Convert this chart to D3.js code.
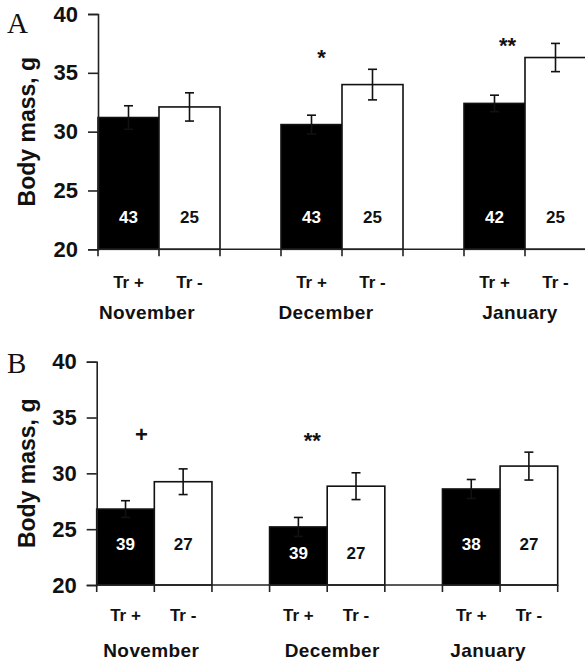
<!DOCTYPE html>
<html><head><meta charset="utf-8">
<script src="https://cdn.jsdelivr.net/npm/d3@7/dist/d3.min.js"></script>
<style>body{margin:0;background:#fff}svg{display:block}</style>
</head><body>
<svg id="c" width="585" height="661"></svg>
<script>
const months = ["November", "December", "January"];
const groups = ["Tr +", "Tr -"];
const yTicks = [20, 25, 30, 35, 40];
// Panel A
const meanA_trPlus = [31.2, 30.6, 32.4];
const meanA_trMinus = [32.1, 34.0, 36.3];
const seA_trPlus = [1.0, 0.8, 0.7];
const seA_trMinus = [1.2, 1.3, 1.2];
const nA_trPlus = [43, 43, 42];
const nA_trMinus = [25, 25, 25];
const sigA = ["", "*", "**"];
// Panel B
const meanB_trPlus = [26.8, 25.2, 28.6];
const meanB_trMinus = [29.25, 28.85, 30.65];
const seB_trPlus = [0.75, 0.85, 0.85];
const seB_trMinus = [1.15, 1.2, 1.25];
const nB_trPlus = [39, 39, 38];
const nB_trMinus = [27, 27, 27];
const sigB = ["+", "**", ""];

const FONT = "'Liberation Sans', Arial, sans-serif";
const svg = d3.select("#c");

function panel(cfg) {
  const g = svg.append("g");
  const x0 = d3.scaleBand().domain(months).range([cfg.left, cfg.right]).paddingInner(1/3).paddingOuter(0);
  const x1 = d3.scaleBand().domain(groups).range([0, x0.bandwidth()]);
  const y = d3.scaleLinear().domain([20, 40]).range([cfg.bottom, cfg.top]);
  const data = [];
  months.forEach((m, i) => {
    data.push({m, grp: groups[0], v: cfg.plus[i], se: cfg.seP[i], n: cfg.nP[i], i});
    data.push({m, grp: groups[1], v: cfg.minus[i], se: cfg.seM[i], n: cfg.nM[i], i});
  });
  const bx = d => x0(d.m) + x1(d.grp);
  // bars
  g.selectAll("rect.bar").data(data).join("rect")
    .attr("x", bx).attr("y", d => y(d.v))
    .attr("width", x1.bandwidth()).attr("height", d => y(20) - y(d.v))
    .attr("fill", d => d.grp === groups[0] ? "#000" : "#fff")
    .attr("stroke", "#111").attr("stroke-width", 1.6);
  // error bars
  const eb = g.selectAll("g.eb").data(data).join("g");
  eb.append("line").attr("x1", d => bx(d) + x1.bandwidth()/2).attr("x2", d => bx(d) + x1.bandwidth()/2)
    .attr("y1", d => y(d.v + d.se)).attr("y2", d => y(d.v - d.se)).attr("stroke", "#111").attr("stroke-width", 1.6);
  eb.append("line").attr("x1", d => bx(d) + x1.bandwidth()/2 - 4.5).attr("x2", d => bx(d) + x1.bandwidth()/2 + 4.5)
    .attr("y1", d => y(d.v + d.se)).attr("y2", d => y(d.v + d.se)).attr("stroke", "#111").attr("stroke-width", 1.6);
  eb.append("line").attr("x1", d => bx(d) + x1.bandwidth()/2 - 4.5).attr("x2", d => bx(d) + x1.bandwidth()/2 + 4.5)
    .attr("y1", d => y(d.v - d.se)).attr("y2", d => y(d.v - d.se)).attr("stroke", "#111").attr("stroke-width", 1.6);
  // counts
  g.selectAll("text.n").data(data).join("text")
    .attr("x", d => bx(d) + x1.bandwidth()/2)
    .attr("y", d => y(20) - cfg.nOff[d.i])
    .attr("text-anchor", "middle").attr("dominant-baseline", "central")
    .attr("font-family", FONT).attr("font-weight", "bold").attr("font-size", 17)
    .attr("fill", d => d.grp === groups[0] ? "#fff" : "#111")
    .text(d => d.n);
  // y axis
  const ya = g.append("g").attr("transform", `translate(${cfg.left},0)`)
    .call(d3.axisLeft(y).tickValues(yTicks).tickSize(10).tickPadding(10));
  ya.select(".domain").attr("stroke", "#222").attr("stroke-width", 1.6);
  ya.selectAll(".tick line").attr("stroke", "#222").attr("stroke-width", 1.6);
  ya.selectAll(".tick text").attr("font-family", FONT).attr("font-weight", "bold").attr("font-size", 22).attr("fill", "#111");
  // x axis
  const edges = [];
  months.forEach(m => { edges.push(x0(m)); edges.push(x0(m) + x1.bandwidth()); edges.push(x0(m) + x0.bandwidth()); });
  const xa = g.append("g");
  xa.append("line").attr("x1", cfg.left).attr("x2", cfg.right).attr("y1", y(20)).attr("y2", y(20))
    .attr("stroke", "#222").attr("stroke-width", 1.6);
  xa.selectAll("line.t").data(edges).join("line").attr("class", "t")
    .attr("x1", d => d).attr("x2", d => d).attr("y1", y(20)).attr("y2", y(20) + 7)
    .attr("stroke", "#222").attr("stroke-width", 1.6);
  g.selectAll("text.grp").data(data).join("text")
    .attr("x", d => bx(d) + x1.bandwidth()/2).attr("y", y(20) + cfg.grpOff)
    .attr("text-anchor", "middle").attr("dominant-baseline", "central")
    .attr("font-family", FONT).attr("font-weight", "bold").attr("font-size", 17).attr("fill", "#111")
    .text(d => d.grp);
  g.selectAll("text.mon").data(months).join("text")
    .attr("x", (m, i) => x0(m) + x0.bandwidth()/2 + cfg.monDx[i]).attr("y", y(20) + cfg.monOff)
    .attr("text-anchor", "middle").attr("dominant-baseline", "central")
    .attr("font-family", FONT).attr("font-weight", "bold").attr("font-size", 19).attr("letter-spacing", 0.4).attr("fill", "#111")
    .text(m => m);
  // significance
  g.selectAll("text.sig").data(cfg.sig).join("text")
    .attr("x", (s, i) => x0(months[i]) + x1.bandwidth()/2 + cfg.sigDx[i])
    .attr("y", (s, i) => cfg.sigY[i])
    .attr("text-anchor", "middle").attr("dominant-baseline", "central")
    .attr("font-family", FONT).attr("font-weight", "bold").attr("font-size", 22).attr("fill", "#111")
    .text(s => s);
  // y title
  g.append("text").attr("transform", `translate(27,${(y(20) + y(40))/2}) rotate(-90)`)
    .attr("text-anchor", "middle").attr("dominant-baseline", "central")
    .attr("font-family", FONT).attr("font-weight", "bold").attr("font-size", 23).attr("fill", "#111")
    .text("Body mass, g");
  // panel letter
  g.append("text").attr("x", 7).attr("y", cfg.letterY)
    .attr("font-family", "'Liberation Serif', 'Times New Roman', serif").attr("font-size", 29).attr("fill", "#111")
    .text(cfg.letter);
}

panel({left: 98, right: 586, top: 14, bottom: 249.3,
  plus: meanA_trPlus, minus: meanA_trMinus, seP: seA_trPlus, seM: seA_trMinus,
  nP: nA_trPlus, nM: nA_trMinus, sig: sigA, sigDx: [0, 10, 13], sigY: [0, 57, 45],
  nOff: [32, 32, 32], grpOff: 33, monOff: 63, monDx: [-12, -16, -5], letter: "A", letterY: 33});
panel({left: 96.7, right: 557.7, top: 361.7, bottom: 585,
  plus: meanB_trPlus, minus: meanB_trMinus, seP: seB_trPlus, seM: seB_trMinus,
  nP: nB_trPlus, nM: nB_trMinus, sig: sigB, sigDx: [16, 14, 0], sigY: [434, 440, 0],
  nOff: [41, 32, 41], grpOff: 30, monOff: 65, monDx: [-3, 5, -12], letter: "B", letterY: 373});
</script>
</body></html>
